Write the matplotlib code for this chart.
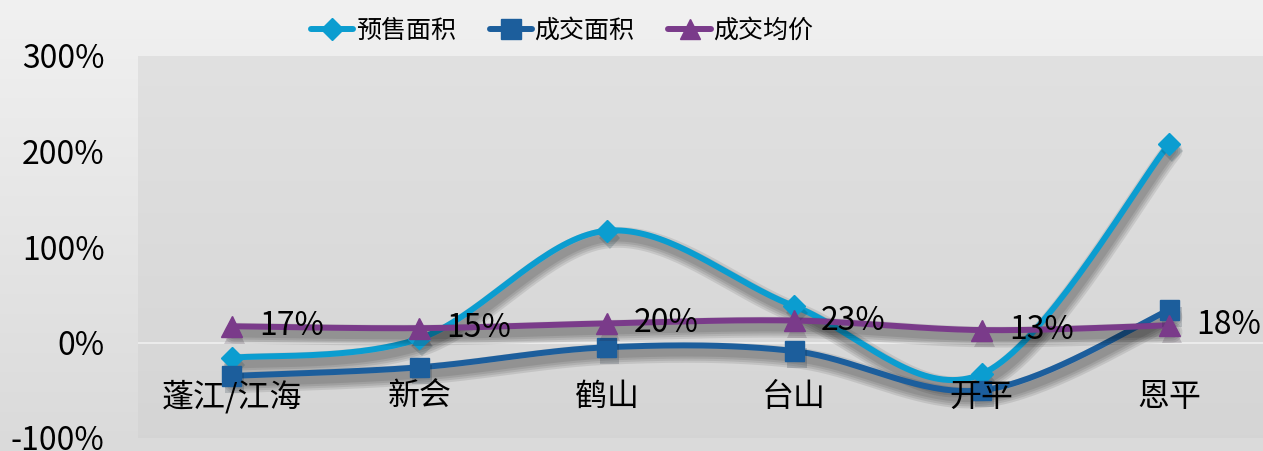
import numpy as np
import matplotlib
matplotlib.use("Agg")
import matplotlib.pyplot as plt
import matplotlib.patheffects as pe
from matplotlib.lines import Line2D

plt.rcParams['font.family'] = ['Noto Sans CJK SC', 'DejaVu Sans']

# ---- data ----
categories = ['蓬江/江海', '新会', '鹤山', '台山', '开平', '恩平']
presale_area = [-16, 4, 117, 38, -33, 208]     # 预售面积 (%)
deal_area = [-35, -26, -5, -9, -50, 34]        # 成交面积 (%)
deal_price = [17, 15, 20, 23, 13, 18]          # 成交均价 (%)
series_names = ['预售面积', '成交面积', '成交均价']
y_ticks = [-100, 0, 100, 200, 300]

colors = ['#0B9DD0', '#1C5E9C', '#7A3B8A']
markers = ['D', 's', '^']
marker_sizes = [11, 14, 15]


def smooth(xs, ys, n=40):
    """Cubic Bezier smoothing through every point (control points from neighbours)."""
    xs = np.asarray(xs, float)
    ys = np.asarray(ys, float)
    pts = np.column_stack([xs, ys])
    out = []
    for i in range(len(pts) - 1):
        p0 = pts[i - 1] if i > 0 else pts[i]
        p1 = pts[i]
        p2 = pts[i + 1]
        p3 = pts[i + 2] if i + 2 < len(pts) else pts[i + 1]
        c1 = p1 + (p2 - p0) / 6.0
        c2 = p2 - (p3 - p1) / 6.0
        t = np.linspace(0, 1, n)[:, None]
        seg = ((1 - t) ** 3) * p1 + 3 * ((1 - t) ** 2) * t * c1 + 3 * (1 - t) * t ** 2 * c2 + t ** 3 * p2
        out.append(seg if i == 0 else seg[1:])
    seg = np.vstack(out)
    return seg[:, 0], seg[:, 1]


W, H = 1263, 451
fig = plt.figure(figsize=(W / 100, H / 100), dpi=100)

# figure background gradient
bg = fig.add_axes([0, 0, 1, 1], zorder=-10)
grad = np.linspace(0, 1, 256)[:, None]
top_c = np.array([0.945, 0.945, 0.945])
bot_c = np.array([0.855, 0.855, 0.855])
img = top_c * (1 - grad[..., None]) + bot_c * grad[..., None]
bg.imshow(np.repeat(img, 2, axis=1), aspect='auto', extent=[0, 1, 0, 1])
bg.set_axis_off()

left = 138 / W
bottom = (H - 438) / H
top = (H - 56) / H
ax = fig.add_axes([left, bottom, 1 - left, top - bottom])
ax.set_facecolor('none')

# plot-area gradient
pa_top = np.array([0.882, 0.882, 0.882])
pa_bot = np.array([0.835, 0.835, 0.835])
pimg = pa_top * (1 - grad[..., None]) + pa_bot * grad[..., None]
ax.imshow(np.repeat(pimg, 2, axis=1), aspect='auto',
          extent=[-0.5, len(categories) - 0.5, -100, 300], zorder=0)

x = np.arange(len(categories))
ax.set_xlim(-0.5, len(categories) - 0.5)
ax.set_ylim(-100, 300)

# zero axis line
ax.axhline(0, color='#EBEBEB', lw=1.5, zorder=1)

shadow = [pe.SimpleLineShadow(offset=(2, -5), shadow_color='black', alpha=0.09, linewidth=lw)
          for lw in (15, 12, 9, 6)] + [pe.Normal()]

all_series = [presale_area, deal_area, deal_price]
for vals, c, m, ms in zip(all_series, colors, markers, marker_sizes):
    sx, sy = smooth(x, vals)
    ax.plot(sx, sy, color=c, lw=4.3, solid_capstyle='round', zorder=3, path_effects=shadow)
    ax.plot(x, vals, linestyle='none', marker=m, markersize=ms, color=c, zorder=4,
            path_effects=[pe.SimplePatchShadow(offset=(2, -5), alpha=0.18), pe.Normal()])

# value labels for average price
for xi, v in zip(x, deal_price):
    ax.annotate(f'{v}%', (xi, v), xytext=(27, 0), textcoords='offset pixels',
                ha='left', va='center', fontsize=23, color='black', zorder=6)

# category labels
for xi, name in zip(x, categories):
    ax.text(xi, -57, name, ha='center', va='center', fontsize=23, color='black', zorder=6)

ax.set_xticks([])
ax.set_yticks(y_ticks)
ax.set_yticklabels([f'{t}%' for t in y_ticks], fontsize=23)
ax.tick_params(axis='y', length=0, pad=24)
for s in ax.spines.values():
    s.set_visible(False)

handles = [Line2D([], [], color=c, lw=4.3, marker=m, markersize=ms, solid_capstyle='round')
           for c, m, ms in zip(colors, markers, marker_sizes)]
fig.legend(handles, series_names, loc='center', bbox_to_anchor=(562 / W, 1 - 31 / H),
           ncol=3, frameon=False, fontsize=18, handlelength=1.7, handletextpad=0.1,
           columnspacing=1.35, borderaxespad=0)

fig.savefig('out.png', dpi=100)
